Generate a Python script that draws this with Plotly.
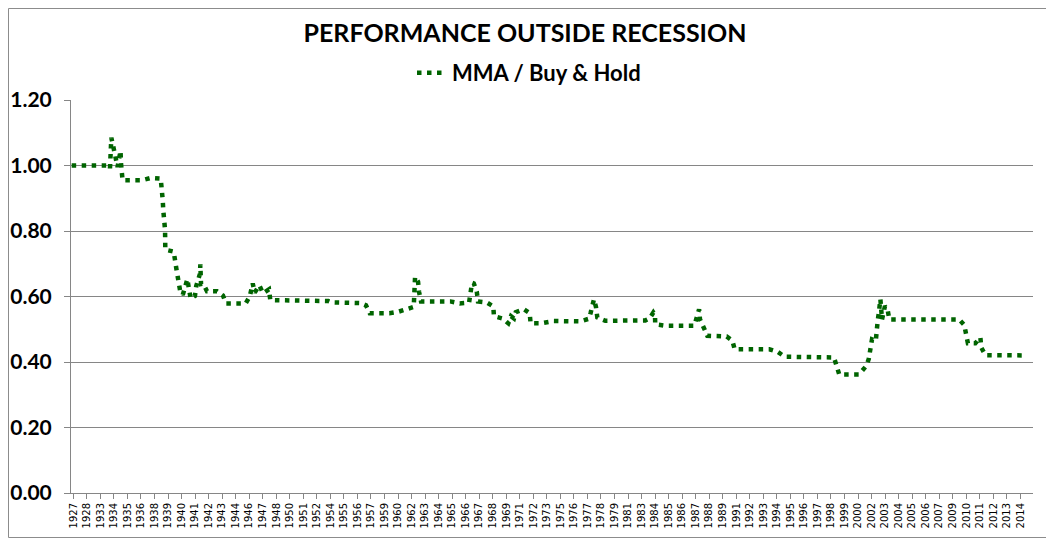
import plotly.graph_objects as go

# Tick labels of the category axis (one per label interval)
year_labels = ["1927", "1928", "1933", "1934", "1935", "1936", "1938", "1939", "1940", "1941",
               "1942", "1943", "1944", "1946", "1947", "1948", "1950", "1951", "1952", "1954",
               "1955", "1956", "1957", "1959", "1960", "1962", "1963", "1964", "1965", "1966",
               "1967", "1968", "1969", "1971", "1972", "1973", "1975", "1976", "1977", "1978",
               "1979", "1981", "1983", "1984", "1985", "1986", "1987", "1988", "1989", "1991",
               "1992", "1993", "1994", "1995", "1996", "1997", "1998", "1999", "2000", "2002",
               "2003", "2004", "2005", "2006", "2007", "2009", "2010", "2011", "2012", "2013",
               "2014"]

# Series position along the category axis (in label-interval units) and value
position = [-0.12, 2.49, 2.71, 2.81, 2.97, 3.16, 3.27, 3.38, 3.49, 3.53, 3.58, 3.64,
            5.08, 5.74, 6.46, 6.56, 6.61, 6.65, 6.73, 6.78, 6.80, 7.42, 7.64, 7.89,
            8.09, 8.26, 8.43, 8.55, 8.68, 8.99, 9.09, 9.36, 9.39, 9.44, 9.61, 9.88,
            10.62, 11.06, 11.29, 12.74, 13.04, 13.26, 13.41, 13.75, 14.02, 14.46, 14.56,
            18.85, 19.10, 21.24, 21.63, 21.91, 23.36, 23.98, 24.59, 25.16, 25.26, 25.48,
            25.55, 25.70, 27.86, 28.56, 29.25, 29.39, 29.47, 29.60, 29.82, 29.91, 30.55,
            31.04, 31.09, 31.71, 32.15, 32.35, 32.57, 32.70, 33.29, 33.73, 33.80, 34.52,
            35.48, 37.45, 38.11, 38.24, 38.48, 38.63, 38.73, 39.32, 42.28, 42.60, 42.87,
            42.99, 43.01, 43.71, 45.90, 46.25, 46.32, 46.67, 46.86, 48.29, 48.71, 48.88,
            51.44, 52.06, 52.58, 56.22, 56.39, 56.61, 58.07, 58.46, 58.61, 58.79, 58.89,
            59.03, 59.31, 59.35, 59.45, 59.53, 59.65, 59.77, 59.84, 59.99, 60.19, 60.31,
            65.48, 65.85, 66.12, 66.67, 67.04, 67.11, 67.41, 70.49]
mma_vs_buy_hold = [1.000, 1.000, 0.990, 1.085, 1.055, 1.020, 0.995, 1.020, 1.045, 1.005, 0.975, 0.955,
                   0.955, 0.962, 0.960, 0.930, 0.894, 0.863, 0.835, 0.804, 0.743, 0.737, 0.679, 0.619,
                   0.605, 0.633, 0.653, 0.623, 0.593, 0.602, 0.633, 0.669, 0.698, 0.638, 0.639, 0.616,
                   0.616, 0.603, 0.579, 0.579, 0.600, 0.640, 0.612, 0.634, 0.610, 0.622, 0.589,
                   0.586, 0.582, 0.580, 0.573, 0.549, 0.549, 0.553, 0.560, 0.568, 0.660, 0.645,
                   0.615, 0.585, 0.585, 0.579, 0.581, 0.613, 0.642, 0.640, 0.615, 0.585, 0.582,
                   0.570, 0.540, 0.533, 0.518, 0.540, 0.533, 0.552, 0.561, 0.549, 0.518, 0.518,
                   0.525, 0.524, 0.532, 0.551, 0.591, 0.568, 0.536, 0.526, 0.527, 0.533, 0.551,
                   0.543, 0.515, 0.511, 0.511, 0.561, 0.530, 0.498, 0.480, 0.478, 0.465, 0.439,
                   0.439, 0.431, 0.416, 0.414, 0.387, 0.362, 0.362, 0.378, 0.388, 0.409, 0.440,
                   0.469, 0.464, 0.495, 0.525, 0.549, 0.592, 0.530, 0.543, 0.571, 0.558, 0.530,
                   0.530, 0.513, 0.457, 0.457, 0.475, 0.444, 0.421, 0.420]

# The page body has an 8px default margin, so the figure is 8px smaller
W, H = 1046, 535
ML, MR, MT, MB = 63, 21, 92, 50
GRID = "#868686"
GREEN = "#006400"

fig = go.Figure()
fig.add_trace(go.Scatter(
    x=position, y=mma_vs_buy_hold, mode="lines", name="MMA / Buy & Hold",
    line=dict(color=GREEN, width=4.5, dash="4.5px,5.5px"),
))

pw = W - ML - MR
ph = H - MT - MB
# chart-area border (Excel style)
fig.add_shape(type="rect", xref="paper", yref="paper",
              x0=(0.5 - ML) / pw, x1=(1040 - ML) / pw,
              y0=(H - MB - 529.5) / ph, y1=(H - MB - 0.5) / ph,
              line=dict(color="#8c8c8c", width=1), layer="below")

fig.update_layout(
    width=W, height=H,
    margin=dict(l=ML, r=MR, t=MT, b=MB, autoexpand=False),
    paper_bgcolor="white", plot_bgcolor="white",
    title=dict(text="<b>PERFORMANCE OUTSIDE RECESSION</b>",
               font=dict(family="Lato", size=25, color="black"),
               x=517 / W, xref="container", xanchor="center",
               y=1 - 25 / H, yref="container", yanchor="middle", automargin=False),
    showlegend=True,
    legend=dict(orientation="h", xref="container", yref="container",
                x=521 / W, xanchor="center", y=1 - 65 / H, yanchor="middle",
                font=dict(family="Lato", size=22, color="black"),
                itemwidth=30, bgcolor="rgba(0,0,0,0)"),
    xaxis=dict(range=[-0.17, 70.93], tickmode="array", automargin=False,
               tickvals=list(range(len(year_labels))), ticktext=year_labels,
               tickangle=-90, tickfont=dict(family="DejaVu Sans", size=10, color="black"),
               showgrid=False, zeroline=False, showline=True, linecolor=GRID, linewidth=1,
               ticks="outside", ticklen=5, tickcolor=GRID),
    yaxis=dict(range=[0, 1.2], dtick=0.2, tick0=0, tickformat=".2f", automargin=False,
               tickfont=dict(family="Lato", size=21, color="black"), ticklabelstandoff=8,
               showgrid=True, gridcolor=GRID, gridwidth=1, zeroline=False,
               showline=True, linecolor=GRID, linewidth=1,
               ticks="outside", ticklen=6, tickcolor=GRID),
)
fig.update_layout(legend_font_weight="bold")
fig.update_yaxes(tickfont_weight="bold")

fig.write_html("out.html")
